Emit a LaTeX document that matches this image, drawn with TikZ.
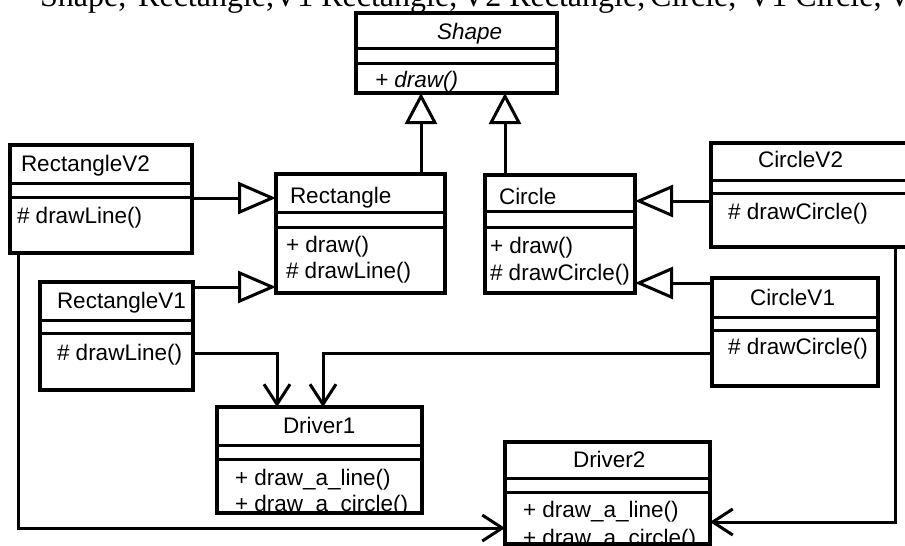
\documentclass[tikz,border=0pt]{standalone}
\usepackage{fontspec}
\setmainfont{Liberation Sans}
\newfontfamily\serifline{Liberation Serif}
\usetikzlibrary{arrows.meta,calc}
\tikzset{
  cbox/.style={draw, line width=3.5pt, inner sep=0pt, outer sep=0pt, rectangle, fill=white},
  sepline/.style={line width=3pt},
  lbl/.style={anchor=base west, inner sep=0pt, outer sep=0pt, font=\fontsize{22.5}{27}\selectfont},
  topline/.style={anchor=base west, inner sep=0pt, font=\serifline\fontsize{32}{36}\selectfont},
  inhh/.style={line width=3pt, -{Triangle[open, length=38pt, width=32pt, line width=3pt]}},
  inhv/.style={line width=3pt, -{Triangle[open, length=31pt, width=32pt, line width=3pt]}},
  dep/.style={line width=3pt, -{Straight Barb[length=20pt, width=26pt, line width=3pt]}},
}
\newcommand{\umlclass}[7]{%
  \node[cbox, anchor=north west, minimum width={#4-#2}, minimum height={#5-#3}] (#1) at (#2,#3) {};
  \draw[sepline] (#2,#6) -- (#4,#6);
  \draw[sepline] (#2,#7) -- (#4,#7);
}
\begin{document}
\begin{tikzpicture}[x=1pt,y=-1pt]
\useasboundingbox (0,0) rectangle (905,546);
\clip (0,0) rectangle (905,546);
\fill[white] (0,0) rectangle (905,546);

% line of text cut off at the top edge
\node[topline] (topa) at (40,6) {Shape,};
\node[topline] (topb) at (138,6) {Rectangle,};
\node[topline] (topc) at (274,6) {V1 Rectangle,};
\node[topline] (topd) at (462,6) {V2 Rectangle,};
\node[topline] (tope) at (650,6) {Circle,};
\node[topline] (topf) at (748,6) {V1 Circle,};
\node[topline] (topg) at (888,6) {V2};

% classes
\umlclass{shape}{356}{13}{557}{93}{48}{63}
\umlclass{rect}{276}{174}{445}{293}{212}{227}
\umlclass{circ}{485}{175}{635}{293}{211}{227}
\umlclass{rvtwo}{10}{145}{192}{253}{183}{197}
\umlclass{rvone}{40}{282}{193}{390}{320}{333}
\umlclass{cvtwo}{711}{143}{918}{247}{180}{193}
\umlclass{cvone}{712}{278}{878}{386}{317}{330}
\umlclass{done}{217}{407}{422}{513}{445}{459}
\umlclass{dtwo}{505}{442}{710}{544}{478}{492}

% labels
\node[lbl] (shapet) at (437,39) {\itshape Shape};
\node[lbl] (shapem) at (375,87) {\itshape + draw()};
\node[lbl] (rectt) at (290,203) {Rectangle};
\node[lbl] (rectma) at (286,252) {+ draw()};
\node[lbl] (rectmb) at (286,278) {\# drawLine()};
\node[lbl] (circt) at (499,204) {Circle};
\node[lbl] (circma) at (490,253) {+ draw()};
\node[lbl] (circmb) at (490,280) {\# drawCircle()};
\node[lbl] (rvtwot) at (21,171) {RectangleV2};
\node[lbl] (rvtwom) at (17,223) {\# drawLine()};
\node[lbl] (rvonet) at (57,308) {RectangleV1};
\node[lbl] (rvonem) at (57,360) {\# drawLine()};
\node[lbl] (cvtwot) at (758,167) {CircleV2};
\node[lbl] (cvtwom) at (728,219) {\# drawCircle()};
\node[lbl] (cvonet) at (750,305) {CircleV1};
\node[lbl] (cvonem) at (728,354) {\# drawCircle()};
\node[lbl] (donet) at (283,433) {Driver1};
\begin{scope}
  \clip ($(done.north west)+(2,2)$) rectangle ($(done.south east)+(-2,-2)$);
  \node[lbl] (donema) at (235,485) {+ draw\_a\_line()};
  \node[lbl] (donemb) at (235,511) {+ draw\_a\_circle()};
\end{scope}
\node[lbl] (dtwot) at (573,467) {Driver2};
\begin{scope}
  \clip ($(dtwo.north west)+(2,2)$) rectangle ($(dtwo.south east)+(-2,-2)$);
  \node[lbl] (dtwoma) at (523,517) {+ draw\_a\_line()};
  \node[lbl] (dtwomb) at (523,545) {+ draw\_a\_circle()};
\end{scope}

% generalisations
\draw[inhv] ($(rect.north east)+(-24,0)$) coordinate (ra) -- (ra |- shape.south);
\draw[inhv] ($(circ.north west)+(20,0)$) coordinate (ca) -- (ca |- shape.south);
\draw[inhh] ($(rvtwo.north east)+(2,53)$) coordinate (rb) -- (rb -| rect.west);
\draw[inhh] ($(rvone.north east)+(0,5)$) coordinate (rc) -- (rc -| rect.west);
\draw[inhh] ($(cvtwo.north west)+(0,58)$) coordinate (cb) -- (cb -| circ.east);
\draw[inhh] ($(cvone.north west)+(0,5)$) coordinate (cc) -- (cc -| circ.east);

% dependencies
\draw[dep] ($(rvone.north east)+(0,71)$) -| ($(done.north west)+(60,0)$);
\draw[dep] ($(cvone.north west)+(0,75)$) -| ($(done.north west)+(106,0)$);
\draw[dep] ($(rvtwo.south west)+(8,0)$) |- ($(dtwo.north west)+(0,86)$);
\draw[dep] ($(cvtwo.south west)+(184,0)$) |- ($(dtwo.north east)+(0,80)$);
\end{tikzpicture}
\end{document}
